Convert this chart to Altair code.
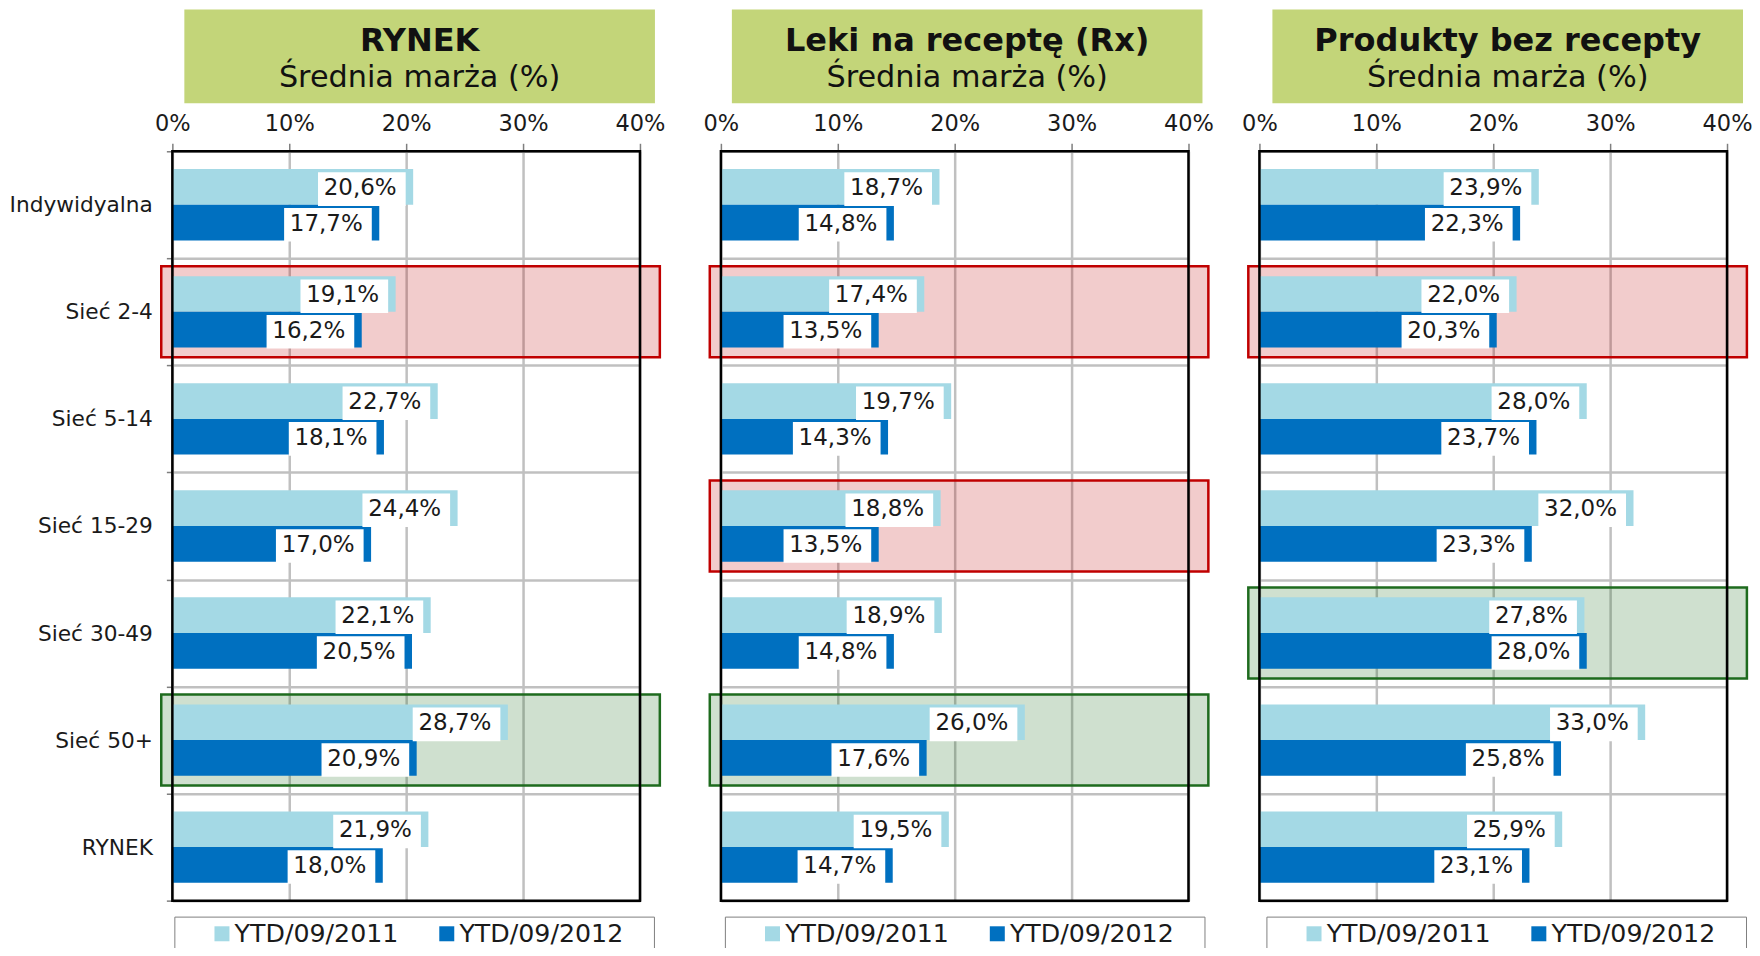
import altair as alt
import pandas as pd

# ---------------- data ----------------
categories = ["Indywidyalna", "Sieć 2-4", "Sieć 5-14", "Sieć 15-29",
              "Sieć 30-49", "Sieć 50+", "RYNEK"]
series = ["YTD/09/2011", "YTD/09/2012"]
panel_titles = ["RYNEK", "Leki na receptę (Rx)", "Produkty bez recepty"]
panel_subtitle = "Średnia marża (%)"

rynek_2011 = [20.6, 19.1, 22.7, 24.4, 22.1, 28.7, 21.9]
rynek_2012 = [17.7, 16.2, 18.1, 17.0, 20.5, 20.9, 18.0]
rx_2011 = [18.7, 17.4, 19.7, 18.8, 18.9, 26.0, 19.5]
rx_2012 = [14.8, 13.5, 14.3, 13.5, 14.8, 17.6, 14.7]
otc_2011 = [23.9, 22.0, 28.0, 32.0, 27.8, 33.0, 25.9]
otc_2012 = [22.3, 20.3, 23.7, 23.3, 28.0, 25.8, 23.1]

highlight_red = [["Sieć 2-4"], ["Sieć 2-4", "Sieć 15-29"], ["Sieć 2-4"]]
highlight_green = [["Sieć 50+"], ["Sieć 50+"], ["Sieć 30-49"]]

x_ticks = [0, 10, 20, 30, 40]

# ---------------- styles ----------------
FONT = "DejaVu Sans"
LIGHT = "#A4D9E5"
DARK = "#0070C0"
HEADER = "#C3D579"
TXT = "#1a1a1a"
W, H = 468, 750


def make_panel(i, v2011, v2012, first, hx0, hx1, hcx, lx):
    rows = []
    for s, vals in zip(series, [v2011, v2012]):
        for c, v in zip(categories, vals):
            rows.append({"category": c, "series": s, "value": v})
    df = pd.DataFrame(rows)
    red_df = pd.DataFrame({"category": highlight_red[i]})
    green_df = pd.DataFrame({"category": highlight_green[i]})
    hdr = pd.DataFrame({"title": [panel_titles[i]], "sub": [panel_subtitle]})

    xscale = alt.Scale(domain=[0, 40], nice=False)
    yscale = alt.Scale(domain=categories, paddingInner=0, paddingOuter=0)
    oscale = alt.Scale(domain=series, paddingInner=0, paddingOuter=0.5)

    xaxis = alt.Axis(orient="top", title=None, values=x_ticks,
                     labelExpr="datum.value + '%'", labelFlush=False,
                     tickSize=8, labelPadding=8, labelFontSize=22.5,
                     grid=True, domain=False)
    if first:
        yaxis = alt.Axis(title=None, tickBand="extent", grid=True, ticks=True,
                         labels=True, tickSize=6, labelPadding=14,
                         labelFontSize=21.7, domain=False)
    else:
        yaxis = alt.Axis(title=None, tickBand="extent", grid=True, ticks=False,
                         labels=False, domain=False)

    X = lambda f: alt.X(f, scale=xscale, axis=xaxis)
    Y = alt.Y("category:N", scale=yscale, axis=yaxis)
    YO = alt.YOffset("series:N", scale=oscale)

    hl_red = alt.Chart(red_df).transform_calculate(
        x0="-0.95", x1="41.7"
    ).mark_bar(height=alt.RelativeBandSize(0.85), fill="#C00000",
               fillOpacity=0.2, stroke="#C00000", strokeWidth=2.5).encode(
        x=X("x0:Q"), x2="x1:Q", y=Y)

    hl_green = alt.Chart(green_df).transform_calculate(
        x0="-0.95", x1="41.7"
    ).mark_bar(height=alt.RelativeBandSize(0.85), fill="#1E6B1E",
               fillOpacity=0.21, stroke="#1E6B1E", strokeWidth=2.5).encode(
        x=X("x0:Q"), x2="x1:Q", y=Y)

    legend = alt.Legend(
        orient="none", legendX=lx, legendY=766, direction="horizontal",
        title="\u00a0", titleOrient="left", titleFontSize=1, titlePadding=30.5,
        symbolType="square", symbolSize=225, symbolStrokeWidth=0,
        labelFontSize=25.3, labelFont=FONT, labelColor=TXT, labelOffset=0,
        columnPadding=35, padding=4.5, strokeColor="#7f7f7f", labelLimit=400,
        labelExpr="datum.label == '" + series[1] + "' ? datum.label + '\u2009\u200a\u2800' : datum.label",
    )

    bars = alt.Chart(df).mark_bar().encode(
        x=X("value:Q"), y=Y, yOffset=YO,
        color=alt.Color("series:N", scale=alt.Scale(domain=series, range=[LIGHT, DARK]),
                        legend=legend),
    )

    boxes = alt.Chart(df).transform_calculate(
        b0="datum.value - 8.14", b1="datum.value - 0.64"
    ).mark_bar(color="white", height=alt.RelativeBandSize(0.94)).encode(
        x=X("b0:Q"), x2="b1:Q", y=Y, yOffset=YO)

    labels = alt.Chart(df).transform_calculate(
        b1="datum.value - 0.64",
        lab="replace(format(datum.value, '.1f'), '.', ',') + '%'"
    ).mark_text(align="right", baseline="middle", dx=-9, dy=1, fontSize=23,
                color=TXT, font=FONT).encode(
        x=X("b1:Q"), y=Y, yOffset=YO, text="lab:N")

    frame = alt.Chart(hdr).mark_rect(fillOpacity=0, stroke="black", strokeWidth=2.5).encode(
        x=alt.value(0), x2=alt.value(W), y=alt.value(0), y2=alt.value(H))

    hrect = alt.Chart(hdr).mark_rect(color=HEADER).encode(
        x=alt.value(hx0), x2=alt.value(hx1), y=alt.value(-142), y2=alt.value(-48))
    htitle = alt.Chart(hdr).mark_text(fontSize=32, fontWeight="bold", color="#111111",
                                      baseline="alphabetic", align="center",
                                      font=FONT).encode(
        x=alt.value(hcx), y=alt.value(-100), text="title:N")
    hsub = alt.Chart(hdr).mark_text(fontSize=30.3, color="#111111",
                                    baseline="alphabetic", align="center",
                                    font=FONT).encode(
        x=alt.value(hcx), y=alt.value(-64), text="sub:N")

    return alt.layer(hl_red, hl_green, bars, boxes, labels, frame, hrect, htitle, hsub).properties(
        width=W, height=H)


p1 = make_panel(0, rynek_2011, rynek_2012, True, 12, 483, 247.5, 2)
p2 = make_panel(1, rx_2011, rx_2012, False, 11, 482, 246.5, 4)
p3 = make_panel(2, otc_2011, otc_2012, False, 13, 484, 248.5, 7)

inner = alt.hconcat(p2, p3, spacing=27).resolve_scale(color="independent")
chart = alt.hconcat(p1, inner, spacing=37).resolve_scale(color="independent").properties(
    padding={"left": 0.5, "top": 1, "right": -1, "bottom": -5}
).configure(font=FONT, background="white").configure_view(
    stroke=None
).configure_axis(
    gridColor="#c0c0c0", gridWidth=2.5, tickColor="#7f7f7f", tickWidth=1.5,
    labelColor=TXT, labelFont=FONT
)

chart.save("out.html", embed_options={"renderer": "svg", "actions": False})
